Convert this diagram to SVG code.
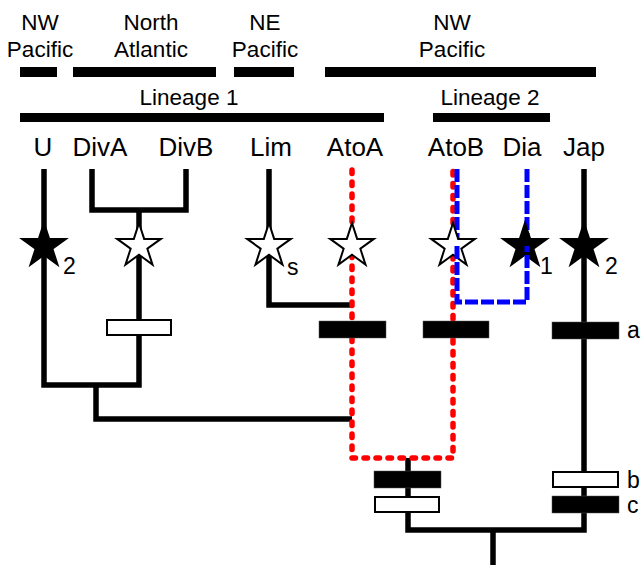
<svg xmlns="http://www.w3.org/2000/svg" width="641" height="565" viewBox="0 0 641 565">
<style>
text{font-family:"Liberation Sans",Arial,sans-serif;fill:#000}
.reg{font-size:22.5px;text-anchor:middle}
.tax{font-size:26px;text-anchor:middle}
.sm{font-size:23px}
.br{fill:none;stroke:#000;stroke-width:5.5;stroke-linejoin:miter}
.red{fill:none;stroke:#f00;stroke-width:5.5;stroke-linecap:round;stroke-dasharray:3.5 8.5}
.blue{fill:none;stroke:#00f;stroke-width:5;stroke-dasharray:13 3}
.bar{fill:#000}
.fb{fill:#000;stroke:#555;stroke-width:0.5}
.ob{fill:#fff;stroke:#000;stroke-width:2}
.sf{fill:#000;stroke:#000;stroke-width:2}
.so{fill:#fff;stroke:#000;stroke-width:2}
</style>
<defs>
<path id="star" d="M0,-23 L5.16,-7.11 L21.87,-7.11 L8.36,2.72 L13.52,18.61 L0,8.79 L-13.52,18.61 L-8.36,2.72 L-21.87,-7.11 L-5.16,-7.11 Z"/>
</defs>
<g id="regions">
<text class="reg" x="40" y="30">NW</text>
<text class="reg" x="40" y="57">Pacific</text>
<rect class="bar" x="20" y="67" width="37" height="10"/>
<text class="reg" x="151" y="30">North</text>
<text class="reg" x="151" y="57">Atlantic</text>
<rect class="bar" x="73" y="67" width="143" height="10"/>
<text class="reg" x="265" y="30">NE</text>
<text class="reg" x="265" y="57">Pacific</text>
<rect class="bar" x="234" y="67" width="60" height="10"/>
<text class="reg" x="452" y="30">NW</text>
<text class="reg" x="452" y="57">Pacific</text>
<rect class="bar" x="325" y="67" width="271" height="10"/>
</g>
<g id="lineage1">
<text class="reg" x="189" y="105">Lineage 1</text>
<rect class="bar" x="20" y="113" width="364" height="9"/>
</g>
<g id="lineage2">
<text class="reg" x="490" y="105">Lineage 2</text>
<rect class="bar" x="433" y="113" width="117" height="9"/>
</g>
<g id="connectors">
<polyline class="br" points="44,169 44,385 139,385 139,210"/>
<polyline class="br" points="92,169 92,210 186,210 186,169"/>
<polyline class="br" points="96,385 96,419 352,419"/>
<polyline class="br" points="269,169 269,305 352,305"/>
<polyline class="br" points="408,458 408,530 584,530 584,169"/>
<line class="br" x1="493" y1="530" x2="493" y2="565"/>
<polyline class="red" points="352,170 352,458 453,458 453,170"/>
<polyline class="blue" points="457,169 457,246"/>
<polyline class="blue" points="527,169 527,246"/>
</g>
<g id="U">
<text class="tax" x="43" y="156">U</text>
<use href="#star" class="sf" x="44" y="246"/>
<text class="sm" x="63" y="274">2</text>
</g>
<g id="DivA"><text class="tax" x="100" y="156">DivA</text></g>
<g id="DivB"><text class="tax" x="186" y="156">DivB</text></g>
<g id="DivAB">
<use href="#star" class="so" x="139" y="246"/>
<rect class="ob" x="107" y="320" width="64" height="15"/>
</g>
<g id="Lim">
<text class="tax" x="271" y="156">Lim</text>
<use href="#star" class="so" x="269" y="246"/>
<text class="sm" x="287" y="275">s</text>
</g>
<g id="AtoA">
<text class="tax" x="355" y="156">AtoA</text>
<use href="#star" class="so" x="352" y="246"/>
<rect class="fb" x="319" y="321" width="67" height="17"/>
</g>
<g id="AtoB">
<text class="tax" x="456" y="156">AtoB</text>
<use href="#star" class="so" x="453" y="246"/>
<rect class="fb" x="423" y="321" width="66" height="17"/>
</g>
<g id="Dia">
<text class="tax" x="522" y="156">Dia</text>
<use href="#star" class="sf" x="525" y="246"/>
<text class="sm" x="540" y="274">1</text>
</g>
<g id="lower-blue">
<polyline class="blue" points="457,246 457,302 527,302 527,246"/>
</g>
<g id="Jap">
<text class="tax" x="584" y="156">Jap</text>
<use href="#star" class="sf" x="584" y="246"/>
<text class="sm" x="605" y="274">2</text>
<rect class="fb" x="552" y="322" width="67" height="17"/>
<text class="sm" x="627" y="338">a</text>
<rect class="ob" x="553" y="472" width="65" height="15"/>
<text class="sm" x="627" y="488">b</text>
<rect class="fb" x="552" y="496" width="67" height="17"/>
<text class="sm" x="627" y="513">c</text>
</g>
<g id="center">
<rect class="fb" x="374" y="471" width="67" height="17"/>
<rect class="ob" x="375" y="497" width="64" height="15"/>
</g>
</svg>
